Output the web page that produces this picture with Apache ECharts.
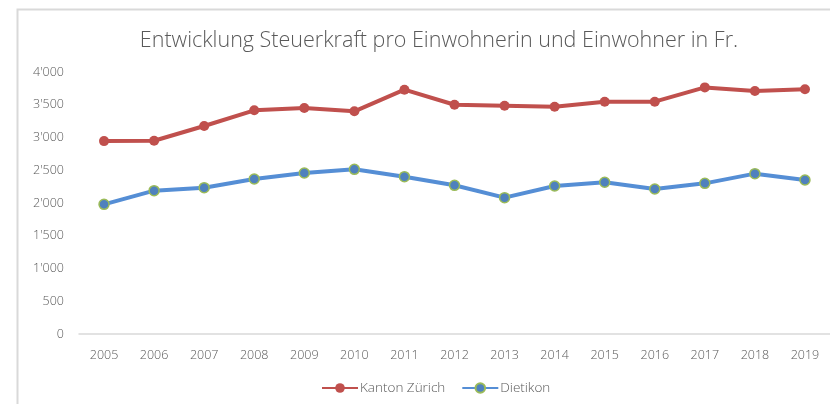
<!DOCTYPE html>
<html>
<head>
<meta charset="utf-8">
<script src="https://cdn.jsdelivr.net/npm/echarts@6/dist/echarts.min.js"></script>
<style>
  html, body { margin: 0; padding: 0; background: #fff; }
  #chart { width: 830px; height: 404px; }
</style>
</head>
<body>
<div id="chart"></div>
<script>
// Jahre
var jahre = ['2005', '2006', '2007', '2008', '2009', '2010', '2011', '2012', '2013', '2014', '2015', '2016', '2017', '2018', '2019'];
// Steuerkraft pro Kopf in Fr.
var kantonZuerich = [2945, 2950, 3176, 3415, 3450, 3400, 3730, 3500, 3486, 3470, 3547, 3547, 3765, 3710, 3736];
var dietikon = [1980, 2188, 2234, 2366, 2458, 2514, 2402, 2270, 2082, 2260, 2316, 2214, 2300, 2448, 2351];
var yTicks = [0, 500, 1000, 1500, 2000, 2500, 3000, 3500, 4000];

var schrift = '"Open Sans", "Noto Sans", sans-serif';
var grau = '#595959';

function tausender(v) {
    return String(v).replace(/\B(?=(\d{3})+(?!\d))/g, "'");
}

var chart = echarts.init(document.getElementById('chart'));
chart.setOption({
    animation: false,
    textStyle: { fontFamily: schrift },
    graphic: [{
        type: 'rect',
        shape: { x: 17.5, y: 9.5, width: 900, height: 500 },
        style: { fill: 'none', stroke: '#d9d9d9', lineWidth: 2 },
        silent: true
    }],
    title: {
        text: 'Entwicklung Steuerkraft pro Einwohnerin und Einwohner in Fr.',
        left: 434,
        textAlign: 'center',
        top: 25,
        textStyle: { fontFamily: schrift, fontWeight: 300, fontSize: 21.5, color: grau }
    },
    legend: {
        bottom: 4,
        left: 316,
        itemWidth: 36,
        itemHeight: 12,
        itemGap: 16,
        textStyle: { fontFamily: schrift, fontWeight: 300, fontSize: 13.5, color: grau, padding: [0, 0, 0, -3] },
        data: ['Kanton Zürich', 'Dietikon']
    },
    grid: { left: 79, right: -1, top: 72, bottom: 70 },
    xAxis: {
        type: 'category',
        data: jahre,
        boundaryGap: true,
        axisLine: { lineStyle: { color: '#d9d9d9', width: 1.5 } },
        axisTick: { show: false },
        axisLabel: { color: grau, fontSize: 12.5, fontWeight: 300, margin: 15 }
    },
    yAxis: {
        type: 'value',
        min: yTicks[0],
        max: yTicks[yTicks.length - 1],
        interval: 500,
        splitLine: { show: false },
        axisLine: { show: false },
        axisTick: { show: false },
        axisLabel: { color: grau, fontSize: 12.5, fontWeight: 300, margin: 15, formatter: tausender }
    },
    series: [{
        name: 'Kanton Zürich',
        type: 'line',
        data: kantonZuerich,
        symbol: 'circle',
        symbolSize: 10,
        lineStyle: { color: '#c0504d', width: 4 },
        itemStyle: { color: '#c0504d' }
    }, {
        name: 'Dietikon',
        type: 'line',
        data: dietikon,
        symbol: 'circle',
        symbolSize: 10,
        lineStyle: { color: '#558ed5', width: 4 },
        itemStyle: { color: '#4f81bd', borderColor: '#9bbb59', borderWidth: 1.5 }
    }]
});
</script>
</body>
</html>
